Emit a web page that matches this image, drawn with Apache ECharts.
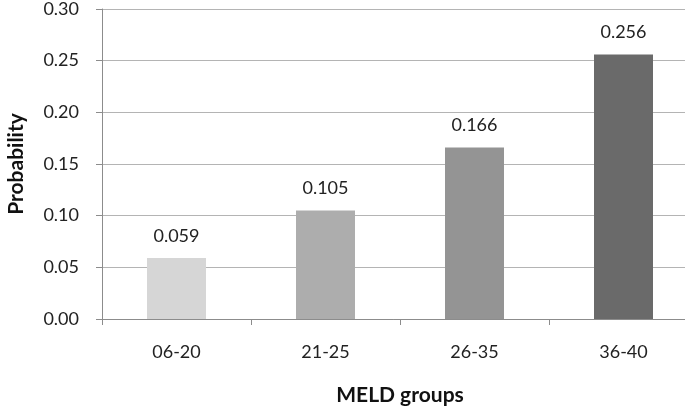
<!DOCTYPE html>
<html>
<head>
<meta charset="utf-8">
<script src="https://cdn.jsdelivr.net/npm/echarts@6/dist/echarts.min.js"></script>
<style>
html,body{margin:0;padding:0;background:#fff;}
#chart{width:685px;height:409px;}
</style>
</head>
<body>
<div id="chart"></div>
<script>
const categories = ['06-20', '21-25', '26-35', '36-40'];
const probabilities = [0.059, 0.105, 0.166, 0.256];
const barColors = ['#d6d6d6', '#adadad', '#949494', '#6a6a6a'];
const yTicks = [0, 0.05, 0.10, 0.15, 0.20, 0.25, 0.30];

const chart = echarts.init(document.getElementById('chart'));
const font = 'Lato, "Open Sans", sans-serif';
chart.setOption({
  animation: false,
  backgroundColor: '#ffffff',
  grid: { left: 102, top: 9, width: 596, bottom: 90, containLabel: false, outerBoundsMode: 'none' },
  xAxis: {
    type: 'category',
    data: categories,
    boundaryGap: true,
    name: 'MELD groups',
    nameLocation: 'middle',
    nameGap: 66,
    nameTextStyle: { fontFamily: font, fontSize: 21, fontWeight: 'bold', color: '#111' },
    axisLine: { lineStyle: { color: '#8c8c8c', width: 1 } },
    axisTick: { show: true, length: 6, lineStyle: { color: '#8c8c8c' } },
    axisLabel: { fontFamily: font, fontSize: 18, color: '#222', margin: 24 }
  },
  yAxis: {
    type: 'value',
    min: yTicks[0],
    max: yTicks[yTicks.length - 1],
    interval: 0.05,
    name: 'Probability',
    nameLocation: 'middle',
    nameGap: 75,
    nameRotate: 90,
    nameTextStyle: { fontFamily: font, fontSize: 21, fontWeight: 'bold', color: '#111' },
    axisLine: { show: true, lineStyle: { color: '#8c8c8c', width: 1 } },
    axisTick: { show: true, length: 6, lineStyle: { color: '#8c8c8c' } },
    axisLabel: { fontFamily: font, fontSize: 18, color: '#222', margin: 23,
      formatter: v => v.toFixed(2) },
    splitLine: { show: true, lineStyle: { color: '#b4b4b4', width: 1 } }
  },
  series: [{
    type: 'bar',
    barWidth: 59,
    data: probabilities.map((v, i) => ({ value: v, itemStyle: { color: barColors[i] } })),
    label: {
      show: true,
      position: 'top',
      distance: 13,
      fontFamily: font,
      fontSize: 18,
      color: '#222',
      formatter: p => p.value.toFixed(3)
    }
  }]
});
</script>
</body>
</html>
